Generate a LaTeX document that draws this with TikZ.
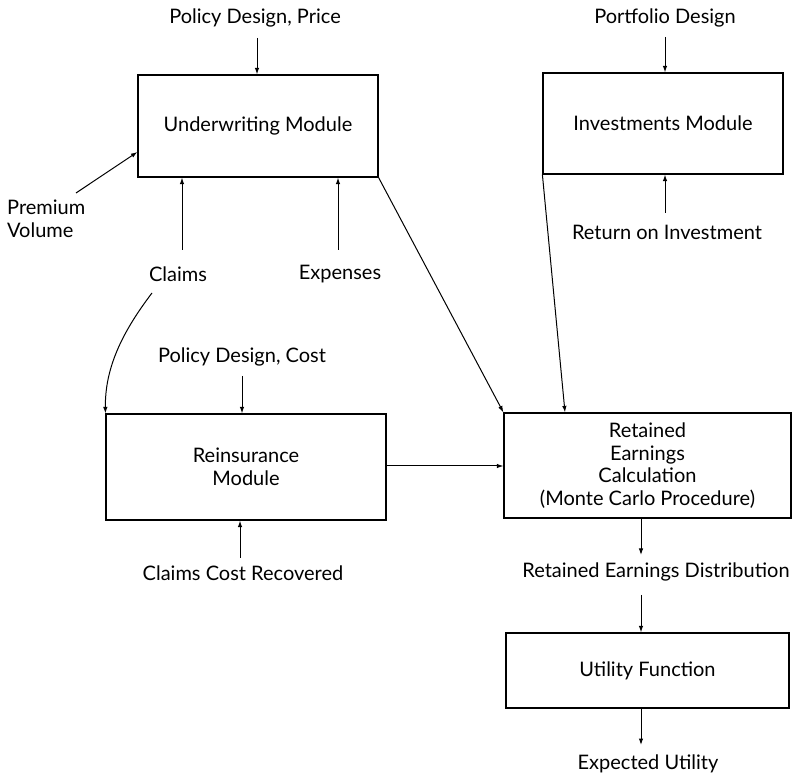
\documentclass[tikz,border=0pt]{standalone}
\usepackage{fontspec}
\setmainfont{Lato}
\usetikzlibrary{arrows.meta}
\begin{document}
\begin{tikzpicture}[x=1pt,y=-1pt,
  font=\fontsize{20}{22.5}\selectfont,
  box/.style={draw,line width=1.2pt,inner sep=0pt},
  lbl/.style={inner sep=0pt,align=center},
  arr/.style={line width=1pt,-{Latex[length=6.5pt,width=4.5pt]}}]
\useasboundingbox (0,0) rectangle (796,775);
% boxes
\node[box,minimum width=240,minimum height=102] (uw) at (258,126) {Underwriting Module};
\node[box,minimum width=240,minimum height=101] (inv) at (663,123.5) {Investments Module};
\node[box,minimum width=280,minimum height=106,align=center] (re) at (246,467) {Reinsurance\\Module};
\node[box,minimum width=287,minimum height=105,align=center] (rec) at (647.5,465.5) {Retained\\Earnings\\Calculation\\(Monte Carlo Procedure)};
\node[box,minimum width=283,minimum height=75] (uf) at (647.5,670.5) {Utility Function};
% labels
\node[lbl] (pdp) at (255,18) {Policy Design, Price};
\node[lbl,align=left,anchor=west] (pv) at (7,219) {Premium\\Volume};
\node[lbl] (cl) at (178,274) {Claims};
\node[lbl] (ex) at (340,274) {Expenses};
\node[lbl] (pfd) at (665,18) {Portfolio Design};
\node[lbl] (roi) at (667,232) {Return on Investment};
\node[lbl] (pdc) at (242,357) {Policy Design, Cost};
\node[lbl] (ccr) at (243,573) {Claims Cost Recovered};
\node[lbl] (red) at (656,572) {Retained Earnings Distribution};
\node[lbl] (eu) at (648,764) {Expected Utility};
% coordinates
\coordinate (a1) at (257,38);
\coordinate (a2) at (76,193);
\coordinate (a3) at (182,250);
\coordinate (a4) at (338,250);
\coordinate (a5) at (665,37);
\coordinate (a6) at (665,213);
\coordinate (a7) at (152,293);
\coordinate (a8) at (242,376);
\coordinate (a9) at (240,558);
\coordinate (b1) at (641,555);
\coordinate (b2) at (641,595);
\coordinate (b3) at (641,745);
% connectors
\draw[arr] (a1) -- (a1 |- uw.north);
\draw[arr] (a2) -- (uw.west |- 0,152);
\draw[arr] (a3) -- (a3 |- uw.south);
\draw[arr] (a4) -- (a4 |- uw.south);
\draw[arr] (a5) -- (a5 |- inv.north);
\draw[arr] (a6) -- (a6 |- inv.south);
\draw[arr] (uw.south east) -- (rec.north west);
\draw[arr] (inv.south west) -- (rec.north west -| 565,0);
\draw[arr] (a7) .. controls (120,335) and (105,370) .. (re.north west);
\draw[arr] (a8) -- (a8 |- re.north);
\draw[arr] (a9) -- (a9 |- re.south);
\draw[arr] (re.east |- 0,466) -- (rec.west |- 0,466);
\draw[arr] (b1 |- rec.south) -- (b1);
\draw[arr] (b2) -- (b2 |- uf.north);
\draw[arr] (b3 |- uf.south) -- (b3);
\end{tikzpicture}
\end{document}
